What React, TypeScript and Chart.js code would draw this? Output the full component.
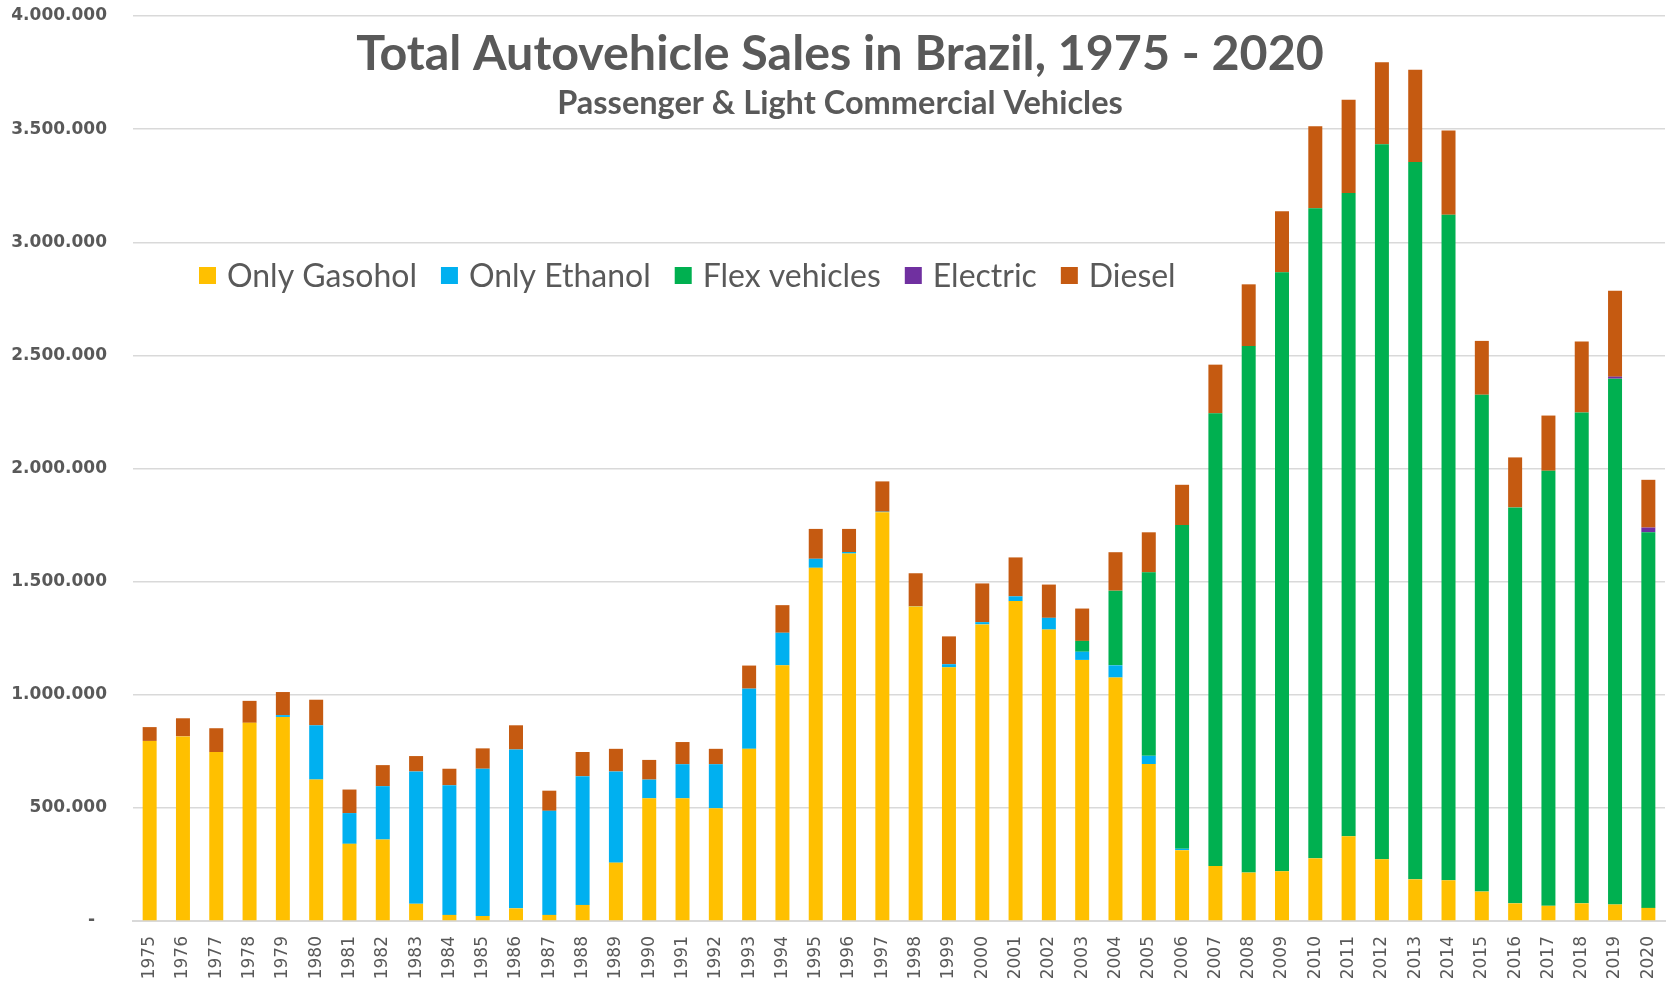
import React, { useEffect, useRef } from 'react';
import { Chart, registerables } from 'chart.js';

Chart.register(...registerables);

const TITLE = 'Total Autovehicle Sales in Brazil, 1975 - 2020';
const SUBTITLE = 'Passenger & Light Commercial Vehicles';

const YEARS = [
  '1975', '1976', '1977', '1978', '1979', '1980', '1981', '1982', '1983', '1984',
  '1985', '1986', '1987', '1988', '1989', '1990', '1991', '1992', '1993', '1994',
  '1995', '1996', '1997', '1998', '1999', '2000', '2001', '2002', '2003', '2004',
  '2005', '2006', '2007', '2008', '2009', '2010', '2011', '2012', '2013', '2014',
  '2015', '2016', '2017', '2018', '2019', '2020',
];

const ONLY_GASOHOL = [
  796000, 816000, 747000, 876000, 902000, 625000, 341000, 360000, 76000, 27000,
  22000, 56000, 27000, 71000, 258000, 542000, 542000, 498000, 761000, 1130000,
  1561000, 1624000, 1807000, 1390000, 1121000, 1311000, 1414000, 1288000, 1154000, 1076000,
  694000, 313000, 243000, 214000, 220000, 277000, 375000, 273000, 184000, 180000,
  130000, 78000, 67000, 78000, 73000, 58000,
];

const ONLY_ETHANOL = [
  0, 0, 0, 0, 8000, 240000, 136000, 236000, 585000, 573000,
  651000, 702000, 460000, 569000, 403000, 83000, 151000, 195000, 266000, 144000,
  40000, 7000, 2000, 1000, 14000, 10000, 21000, 52000, 36000, 54000,
  36000, 6000, 0, 0, 0, 0, 0, 0, 0, 0,
  0, 0, 0, 0, 0, 0,
];

const FLEX_VEHICLES = [
  0, 0, 0, 0, 0, 0, 0, 0, 0, 0,
  0, 0, 0, 0, 0, 0, 0, 0, 0, 0,
  0, 0, 0, 0, 0, 0, 0, 0, 48000, 330000,
  811000, 1431000, 2001000, 2327000, 2647000, 2873000, 2843000, 3160000, 3171000, 2942000,
  2196000, 1750000, 1923000, 2169000, 2324000, 1660000,
];

const ELECTRIC = [
  0, 0, 0, 0, 0, 0, 0, 0, 0, 0,
  0, 0, 0, 0, 0, 0, 0, 0, 0, 0,
  0, 0, 0, 0, 0, 0, 0, 0, 0, 0,
  0, 0, 0, 0, 0, 0, 0, 0, 0, 0,
  0, 0, 0, 0, 9000, 21000,
];

const DIESEL = [
  61000, 80000, 105000, 97000, 102000, 113000, 104000, 93000, 68000, 73000,
  90000, 107000, 89000, 107000, 100000, 87000, 98000, 68000, 102000, 122000,
  132000, 102000, 134000, 146000, 123000, 171000, 172000, 147000, 143000, 170000,
  177000, 178000, 215000, 273000, 270000, 363000, 412000, 363000, 407000, 372000,
  238000, 221000, 244000, 314000, 380000, 211000,
];

const SERIES_NAMES = ['Only Gasohol', 'Only Ethanol', 'Flex vehicles', 'Electric', 'Diesel'];
const SERIES_COLORS = ['#FFC000', '#00B0F0', '#00B050', '#7030A0', '#C55A11'];

const TEXT_COLOR = '#595959';
const GRID_COLOR = '#d9d9d9';

function formatThousands(v: number): string {
  if (v === 0) return '-  ';
  return String(Math.round(v)).replace(/\B(?=(\d{3})+(?!\d))/g, '.');
}

function fitSize(ctx: CanvasRenderingContext2D, text: string, weight: string, family: string, base: number, target: number): number {
  ctx.font = `${weight} ${base}px ${family}`;
  const w = ctx.measureText(text).width;
  return (base * target) / w;
}

const overlayPlugin = {
  id: 'overlayText',
  afterDraw(chart: any) {
    const ctx: CanvasRenderingContext2D = chart.ctx;
    ctx.save();
    ctx.fillStyle = TEXT_COLOR;
    ctx.textAlign = 'center';
    ctx.textBaseline = 'alphabetic';

    // Title
    const ts = fitSize(ctx, TITLE, 'bold', 'Lato', 52, 968);
    ctx.font = `bold ${ts}px Lato`;
    ctx.fillText(TITLE, 840, 70);

    // Subtitle
    const ss = fitSize(ctx, SUBTITLE, 'bold', 'Lato', 35, 566);
    ctx.font = `bold ${ss}px Lato`;
    ctx.fillText(SUBTITLE, 840, 114);

    // Legend
    const box = 17;
    const boxGap = 11;
    const itemGap = 24;
    const startX = 199;
    const totalTarget = 977;
    const fixed = SERIES_NAMES.length * (box + boxGap) + (SERIES_NAMES.length - 1) * itemGap;
    ctx.font = `normal 35px Lato`;
    let measured = 0;
    SERIES_NAMES.forEach((n) => { measured += ctx.measureText(n).width; });
    const ls = (35 * (totalTarget - fixed)) / measured;
    ctx.font = `normal ${ls}px Lato`;
    ctx.textAlign = 'left';
    let x = startX;
    const baseline = 287;
    SERIES_NAMES.forEach((n, i) => {
      ctx.fillStyle = SERIES_COLORS[i];
      ctx.fillRect(x, 267, box, box);
      ctx.fillStyle = TEXT_COLOR;
      ctx.fillText(n, x + box + boxGap, baseline);
      x += box + boxGap + ctx.measureText(n).width + itemGap;
    });
    ctx.restore();
  },
};

export default function App() {
  const ref = useRef<HTMLCanvasElement>(null);

  useEffect(() => {
    if (!ref.current) return;
    const series = [ONLY_GASOHOL, ONLY_ETHANOL, FLEX_VEHICLES, ELECTRIC, DIESEL];
    const chart = new Chart(ref.current, {
      type: 'bar',
      data: {
        labels: YEARS,
        datasets: series.map((d, i) => ({
          label: SERIES_NAMES[i],
          data: d,
          backgroundColor: SERIES_COLORS[i],
          borderWidth: 0,
          barPercentage: 0.42,
          categoryPercentage: 1,
        })),
      },
      options: {
        responsive: false,
        devicePixelRatio: 1,
        animation: false,
        layout: { padding: { top: 16, right: 3, bottom: 0, left: 0 } },
        plugins: {
          legend: { display: false },
          title: { display: false },
          tooltip: { enabled: false },
        },
        scales: {
          x: {
            stacked: true,
            grid: { display: false, drawTicks: false },
            border: { display: true, color: GRID_COLOR, width: 2 },
            ticks: {
              autoSkip: false,
              minRotation: 90,
              maxRotation: 90,
              padding: 15,
              color: TEXT_COLOR,
              font: { family: 'DejaVu Sans', size: 17 },
            },
            afterFit(scale: any) {
              scale.height = 62;
              scale.paddingLeft = 0;
              scale.paddingRight = 0;
            },
          },
          y: {
            stacked: true,
            min: 0,
            max: 4000000,
            grid: { color: GRID_COLOR, lineWidth: 1.5, drawTicks: false },
            border: { display: false },
            ticks: {
              stepSize: 500000,
              padding: 26,
              color: TEXT_COLOR,
              font: { family: 'DejaVu Sans', size: 17, weight: 'bold' },
              callback: (v: any) => formatThousands(Number(v)),
            },
            afterFit(scale: any) {
              scale.width = 133;
              scale.paddingTop = 0;
              scale.paddingBottom = 0;
            },
          },
        },
      },
      plugins: [overlayPlugin],
    } as any);
    return () => chart.destroy();
  }, []);

  return (
    <div style={{ position: 'absolute', left: 0, top: 0, width: 1668, height: 983 }}>
      <canvas ref={ref} width={1668} height={983} style={{ display: 'block' }} />
    </div>
  );
}
